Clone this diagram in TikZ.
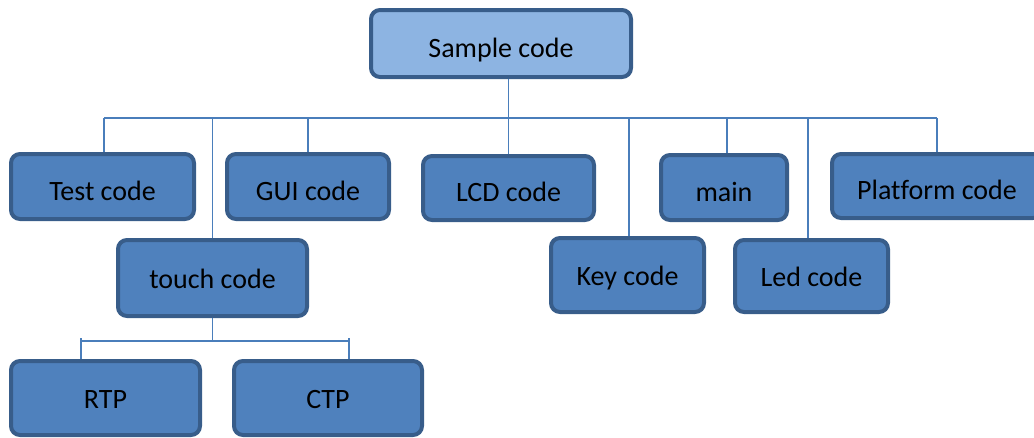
\documentclass[tikz,border=0pt]{standalone}
\usepackage{fontspec}
\setmainfont{Carlito}[Ligatures=NoCommon]
\definecolor{boxfill}{RGB}{79,129,189}
\definecolor{boxline}{RGB}{56,93,138}
\definecolor{topfill}{RGB}{141,180,226}
\definecolor{wire}{RGB}{74,126,187}
\begin{document}
\begin{tikzpicture}[x=1pt,y=-1pt,
    box/.style={draw=boxline,fill=boxfill,line width=4pt,rounded corners=9pt,inner sep=0pt,
        text height=27pt,text depth=0pt,font=\fontsize{28}{34}\selectfont},
    tallbox/.style={box,text height=21pt},
    wireline/.style={draw=wire,line width=1.6pt}]
    \useasboundingbox (0,0) rectangle (1034,437);
    \clip (0,0) rectangle (1034,437);
    \node (sample) at (501,43.5) [box,fill=topfill,minimum width=260pt,minimum height=67pt] {Sample code};
    \node (test) at (102.5,186.5) [box,minimum width=183pt,minimum height=65pt] {Test code};
    \node (gui) at (308,186.5) [box,minimum width=162pt,minimum height=65pt] {GUI code};
    \node (lcd) at (508.5,188) [box,minimum width=171pt,minimum height=64pt] {LCD code};
    \node (main) at (724,187.5) [box,minimum width=126pt,minimum height=65pt] {main};
    \node (platform) at (937,186) [box,minimum width=210pt,minimum height=64pt] {Platform code};
    \node (touch) at (212.5,278) [tallbox,minimum width=189pt,minimum height=76pt] {touch code};
    \node (key) at (627.5,275) [tallbox,minimum width=153pt,minimum height=74pt] {Key code};
    \node (led) at (811.5,276) [tallbox,minimum width=153pt,minimum height=72pt] {Led code};
    \node (rtp) at (105.5,398) [tallbox,minimum width=189pt,minimum height=74pt] {RTP};
    \node (ctp) at (328,398) [tallbox,minimum width=188pt,minimum height=74pt] {CTP};
    \coordinate (bus) at (0,118);
    \coordinate (tbus) at (0,341);
    \coordinate (rtptop) at (81,338);
    \coordinate (ctptop) at (349,338);
    % top level
    \draw[wireline] (lcd.north |- sample.south) -- (lcd.north);
    \draw[wireline] ([xshift=1.5pt]test.north |- bus) -- (platform.north |- bus);
    \draw[wireline] ([xshift=1.5pt]test.north |- bus) -- ([xshift=1.5pt]test.north);
    \draw[wireline] (touch.north |- bus) -- (touch.north);
    \draw[wireline] (gui.north |- bus) -- (gui.north);
    \draw[wireline] ([xshift=1.5pt]key.north |- bus) -- ([xshift=1.5pt]key.north);
    \draw[wireline] ([xshift=3pt]main.north |- bus) -- ([xshift=3pt]main.north);
    \draw[wireline] ([xshift=-3.5pt]led.north |- bus) -- ([xshift=-3.5pt]led.north);
    \draw[wireline] (platform.north |- bus) -- (platform.north);
    % touch branch
    \draw[wireline] (touch.south) -- (touch.south |- tbus);
    \draw[wireline] (rtptop |- tbus) -- (ctptop |- tbus);
    \draw[wireline] (rtptop) -- (rtptop |- rtp.north);
    \draw[wireline] (ctptop) -- (ctptop |- ctp.north);
\end{tikzpicture}
\end{document}
